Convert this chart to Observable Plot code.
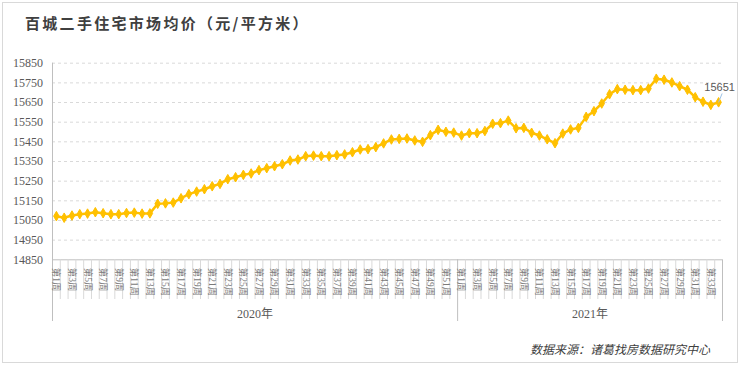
<!DOCTYPE html>
<html>
<head>
<meta charset="utf-8">
<script src="https://cdn.jsdelivr.net/npm/d3@7"></script>
<script src="https://cdn.jsdelivr.net/npm/@observablehq/plot@0.6"></script>
<style>
  html, body { margin: 0; padding: 0; background: #fff; }
  #wrap { position: relative; width: 740px; height: 366px; overflow: hidden; }
  #border { position: absolute; left: 2px; top: 2px; width: 734px; height: 359px; border: 1px solid #d9d9d9; }
  #title { position: absolute; left: 25px; top: 12px; font-family: "Noto Sans CJK SC", sans-serif; font-size: 15px; font-weight: bold; letter-spacing: 2.3px; color: #404040; white-space: nowrap; }
  #source { position: absolute; left: 530px; top: 340px; font-family: "Noto Sans CJK SC", sans-serif; font-size: 12px; font-style: italic; color: #404040; white-space: nowrap; }
  #chart { position: absolute; left: 0; top: 0; }
</style>
</head>
<body>
<div id="wrap">
  <div id="border"></div>
  <div id="chart"></div>
  <div id="title">百城二手住宅市场均价（元/平方米）</div>
  <div id="source">数据来源：诸葛找房数据研究中心</div>
</div>
<script>
const years = ["2020年", "2021年"];
const weeks2020 = d3.range(1, 53);
const weeks2021 = d3.range(1, 35);
const values2020 = [15072, 15064, 15075, 15082, 15085, 15092, 15087, 15082, 15082, 15088,
  15090, 15085, 15086, 15135, 15137, 15141, 15163, 15184, 15197, 15209,
  15224, 15236, 15260, 15270, 15282, 15289, 15306, 15316, 15326, 15336,
  15355, 15360, 15377, 15380, 15377, 15377, 15382, 15386, 15397, 15411,
  15413, 15423, 15442, 15462, 15465, 15467, 15457, 15450, 15484, 15511,
  15501, 15497];
const values2021 = [15482, 15494, 15494, 15505, 15542, 15545, 15558, 15519, 15521, 15496,
  15482, 15463, 15443, 15492, 15513, 15521, 15577, 15606, 15645, 15692,
  15718, 15715, 15713, 15713, 15721, 15771, 15766, 15752, 15733, 15715,
  15677, 15654, 15638, 15651];
const yTicks = [14850, 14950, 15050, 15150, 15250, 15350, 15450, 15550, 15650, 15750, 15850];

const data = [
  ...values2020.map((v, k) => ({i: k + 1, v, year: 0, w: weeks2020[k]})),
  ...values2021.map((v, k) => ({i: weeks2020.length + k + 1, v, year: 1, w: weeks2021[k]}))
];
const n = data.length;
const labels = data.filter(d => d.w % 2 === 1).map(d => ({i: d.i, t: `第${d.w}周`}));
const boundaries = d3.range(1, n).map(k => k + 0.5).filter(b => b !== weeks2020.length + 0.5);
const yearSeps = [weeks2020.length + 0.5, n + 0.5];
const yearLabels = [
  {i: (0.5 + weeks2020.length + 0.5) / 2, t: years[0]},
  {i: (weeks2020.length + 0.5 + n + 0.5) / 2, t: years[1]}
];
const last = data[n - 1];

const serif = "'Liberation Serif', 'Times New Roman', 'Noto Sans CJK SC', serif";
const yTop = 62.7, yBot = 259.3;

const chart = Plot.plot({
  width: 740,
  height: 366,
  marginLeft: 52,
  marginRight: 18,
  marginTop: yTop,
  marginBottom: 45,
  style: {background: "transparent", fontFamily: serif},
  x: {domain: [0.5, n + 0.5], axis: null},
  y: {domain: [14850, 15850], range: [yBot, yTop], axis: null},
  marks: [
    Plot.ruleY(yTicks.slice(1), {stroke: "#d9d9d9", strokeDasharray: "3,3", strokeWidth: 1}),
    Plot.ruleY([14850], {stroke: "#bfbfbf", strokeWidth: 1}),
    Plot.ruleX([0.5], {stroke: "#bfbfbf", strokeWidth: 1}),
    Plot.ruleX(yearSeps, {stroke: "#bfbfbf", strokeWidth: 1, insetTop: yBot - yTop}),
    Plot.ruleX(boundaries, {stroke: "#d9d9d9", strokeWidth: 1, insetTop: yBot - yTop, insetBottom: 22}),
    Plot.axisY({ticks: yTicks, tickSize: 0, tickPadding: 9.5, tickFormat: d => String(d), label: null,
      fontSize: 12, fontFamily: serif, color: "#595959"}),
    Plot.text(labels, {x: "i", y: () => 14850, text: "t", rotate: 90, textAnchor: "start", dy: 8,
      fontSize: 9.5, fontFamily: serif, fill: "#7a7a7a"}),
    Plot.text(yearLabels, {x: "i", y: () => 14850, text: "t", dy: 54, fontSize: 12, fontFamily: serif, fill: "#595959"}),
    Plot.line(data, {x: "i", y: "v", stroke: "#FFC000", strokeWidth: 2.5}),
    Plot.dot(data, {x: "i", y: "v", symbol: "diamond", r: 2.9, fill: "#FFC000", stroke: "#FFC000", strokeWidth: 1}),
    Plot.link([last], {x1: "i", y1: "v", x2: d => d.i + 0.45, y2: d => d.v + 45, stroke: "#9dc3e6", strokeWidth: 1}),
    Plot.text([last], {x: "i", y: "v", text: d => String(d.v), dy: -15, dx: 1, fontSize: 11,
      fontFamily: "'Liberation Sans', Arial, sans-serif", fill: "#595959"})
  ]
});
document.getElementById("chart").appendChild(chart);
</script>
</body>
</html>
